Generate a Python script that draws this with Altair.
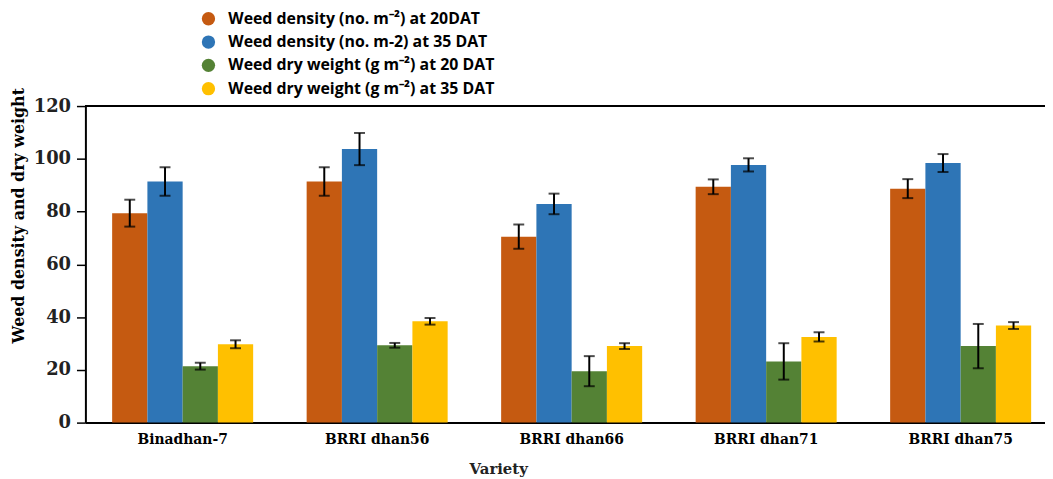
import altair as alt
import pandas as pd

varieties = ["Binadhan-7", "BRRI dhan56", "BRRI dhan66", "BRRI dhan71", "BRRI dhan75"]
series_names = [
    "Weed density (no. m\u207b\u00b2) at 20DAT",
    "Weed density (no. m-2) at 35 DAT",
    "Weed dry weight (g m\u207b\u00b2) at 20 DAT",
    "Weed dry weight (g m\u207b\u00b2) at 35 DAT",
]
colors = ["#C55A11", "#2E75B6", "#548235", "#FFC000"]

dens20 = [79.4, 91.4, 70.5, 89.4, 88.7]
dens20_err = [5.1, 5.4, 4.6, 2.8, 3.6]
dens35 = [91.4, 103.7, 82.9, 97.7, 98.4]
dens35_err = [5.4, 6.1, 3.9, 2.5, 3.4]
dw20 = [21.4, 29.3, 19.5, 23.2, 29.0]
dw20_err = [1.3, 0.9, 5.7, 6.9, 8.4]
dw35 = [29.7, 38.4, 29.0, 32.5, 36.8]
dw35_err = [1.5, 1.25, 1.1, 1.75, 1.3]

y_ticks = [0, 20, 40, 60, 80, 100, 120]

values = [dens20, dens35, dw20, dw35]
errors = [dens20_err, dens35_err, dw20_err, dw35_err]
rows = []
for s, vals, errs in zip(series_names, values, errors):
    for v, val, err in zip(varieties, vals, errs):
        rows.append({"variety": v, "series": s, "value": val,
                     "lo": val - err, "hi": val + err})
df = pd.DataFrame(rows)

x_enc = alt.X("variety:N", sort=varieties,
              scale=alt.Scale(range=[0, 980], paddingInner=0.275, paddingOuter=0.1375),
              axis=alt.Axis(title="Variety", labelAngle=0, ticks=False,
                            labelFont="DejaVu Serif", labelFontWeight="bold",
                            labelFontSize=14, labelColor="black", labelPadding=10,
                            domainColor="black", domainWidth=2,
                            titleFont="DejaVu Serif", titleFontWeight="bold",
                            titleFontSize=15, titleColor="#222",
                            titleX=416, titleY=51, titleBaseline="alphabetic",
                            titleAnchor="start", titleAlign="center"))
xo = alt.XOffset("series:N", sort=series_names)

y_scale = alt.Scale(domain=[0, 120], nice=False)

bars = alt.Chart(df).mark_bar().encode(
    x=x_enc,
    xOffset=xo,
    y=alt.Y("value:Q", scale=y_scale,
            axis=alt.Axis(title="Weed density and dry weight", values=y_ticks,
                          grid=False, tickColor="black", tickWidth=1.5, tickSize=9,
                          domainColor="black", domainWidth=2,
                          labelFont="DejaVu Serif", labelFontWeight="bold",
                          labelFontSize=18, labelColor="#222", labelPadding=6,
                          titleFont="DejaVu Serif", titleFontWeight="bold",
                          titleFontSize=16, titleColor="black",
                          titleX=-67, titleY=110, titleAngle=-90,
                          titleAlign="center", titleBaseline="middle")),
    color=alt.Color("series:N", sort=series_names,
                    scale=alt.Scale(domain=series_names, range=colors),
                    legend=alt.Legend(title=None, orient="none", legendX=116, legendY=-96,
                                      symbolType="circle", symbolSize=180,
                                      symbolStrokeWidth=0, labelFont="Open Sans",
                                      labelFontWeight="bold", labelFontSize=16,
                                      labelColor="black", labelOffset=12,
                                      rowPadding=7.5, padding=0, labelLimit=400)),
)

rules = alt.Chart(df).mark_rule(color="black", strokeWidth=2).encode(
    x=alt.X("variety:N", sort=varieties),
    xOffset=xo,
    y=alt.Y("lo:Q", scale=y_scale),
    y2="hi:Q",
)
caps_lo = alt.Chart(df).mark_tick(color="black", thickness=2, size=11).encode(
    x=alt.X("variety:N", sort=varieties),
    xOffset=xo,
    y=alt.Y("lo:Q", scale=y_scale),
)
caps_hi = alt.Chart(df).mark_tick(color="black", thickness=2, size=11).encode(
    x=alt.X("variety:N", sort=varieties),
    xOffset=xo,
    y=alt.Y("hi:Q", scale=y_scale),
)
top_line = alt.Chart(df).mark_rule(color="black", strokeWidth=2).encode(
    x=alt.value(0), x2=alt.value(980), y=alt.value(0)
)

chart = alt.layer(bars, rules, caps_lo, caps_hi, top_line).properties(
    width=967, height=319,
    autosize=alt.AutoSizeParams(type="none"),
    padding={"left": 78, "top": 97, "right": 0, "bottom": 54},
).configure_view(stroke=None)

chart.save("out.html", embed_options={"renderer": "svg", "actions": False})
